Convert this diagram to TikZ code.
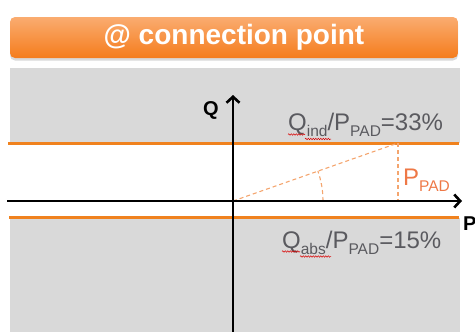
\documentclass[tikz,border=0pt]{standalone}
\usepackage{fontspec}
\setmainfont{Liberation Sans}
\usetikzlibrary{arrows.meta,shadows,decorations.pathmorphing}
\definecolor{lineorange}{RGB}{240,130,30}
\definecolor{dashorange}{RGB}{244,165,110}
\definecolor{padorange}{RGB}{238,120,70}
\definecolor{panelgray}{RGB}{217,217,217}
\definecolor{textgray}{RGB}{90,90,95}
\definecolor{bantop}{RGB}{250,172,112}
\definecolor{banbot}{RGB}{245,124,28}
\newcommand{\lowsub}[1]{\raisebox{-6pt}{\fontsize{15.5}{15.5}\selectfont #1}}
\begin{document}
\begin{tikzpicture}[x=1pt,y=-1pt,
  banner/.style={rounded corners=5pt, top color=bantop, bottom color=banbot,
    draw=none, text=white, font=\fontsize{28}{28}\selectfont\bfseries,
    minimum width=448pt, minimum height=41pt, inner sep=0pt,
    drop shadow={shadow xshift=0pt, shadow yshift=-2.5pt, opacity=0.3}},
  orangeline/.style={draw=lineorange, line width=3pt},
  axis/.style={draw=black, line width=2.6pt, -{Straight Barb[length=6pt,width=13pt,line width=2.6pt]}},
  dashline/.style={draw=dashorange, line width=1.1pt, dashed, dash pattern=on 4pt off 3pt},
  axislabel/.style={font=\fontsize{20}{20}\selectfont\bfseries, inner sep=0pt, anchor=base west},
  ratio/.style={font=\fontsize{24}{24}\selectfont, text=textgray, inner sep=0pt, anchor=base west},
  squiggle/.style={draw=red!85!black, line width=0.5pt, decorate,
    decoration={snake, amplitude=0.7pt, segment length=2.5pt}}
]
\useasboundingbox (0,0) rectangle (475,332);
% panels
\fill[panelgray] (10,68) rectangle (460,143);
\fill[panelgray] (10,218) rectangle (460,332);
% banner
\node[banner] (title) at (234,37.5) {@ connection point};
% orange limit lines
\coordinate (tl) at (8,143); \coordinate (tr) at (459,143);
\coordinate (bl) at (9,217.5); \coordinate (br) at (459,217.5);
\draw[orangeline] (tl) -- (tr);
\draw[orangeline] (bl) -- (br);
% dashed triangle and angle
\coordinate (o) at (233,201);
\coordinate (pk) at (398,143);
\coordinate (pb) at (398,201);
\draw[dashline] (o) -- (pk);
\draw[dashline] (pk) -- (pb);
\draw[dashline] ([xshift=90pt]o) arc[start angle=0, end angle=19.5, radius=90pt];
% axes
\coordinate (xs) at (7,201); \coordinate (xe) at (462,201);
\coordinate (ys) at (233,335); \coordinate (ye) at (233,95);
\draw[axis] (xs) -- (xe);
\draw[axis] (ys) -- (ye);
\node[axislabel] (qlab) at (203,115) {Q};
\node[axislabel] (plab) at (463,230) {P};
% texts
\node[ratio] (qind) at (288,130) {Q\lowsub{ind}/P\lowsub{PAD}=33\%};
\node[ratio] (qabs) at (282,248) {Q\lowsub{abs}/P\lowsub{PAD}=15\%};
\node[ratio, text=padorange] (ppad) at (403,185) {P\lowsub{PAD}};
% spell-check squiggles
\coordinate (s1a) at (288,134.5); \coordinate (s1b) at (305,134.5);
\coordinate (s2a) at (305,139); \coordinate (s2b) at (331,139);
\coordinate (s3a) at (282,251.5); \coordinate (s3b) at (300,251.5);
\coordinate (s4a) at (300,256.5); \coordinate (s4b) at (331,256.5);
\draw[squiggle] (s1a) -- (s1b);
\draw[squiggle] (s2a) -- (s2b);
\draw[squiggle] (s3a) -- (s3b);
\draw[squiggle] (s4a) -- (s4b);
\end{tikzpicture}
\end{document}
